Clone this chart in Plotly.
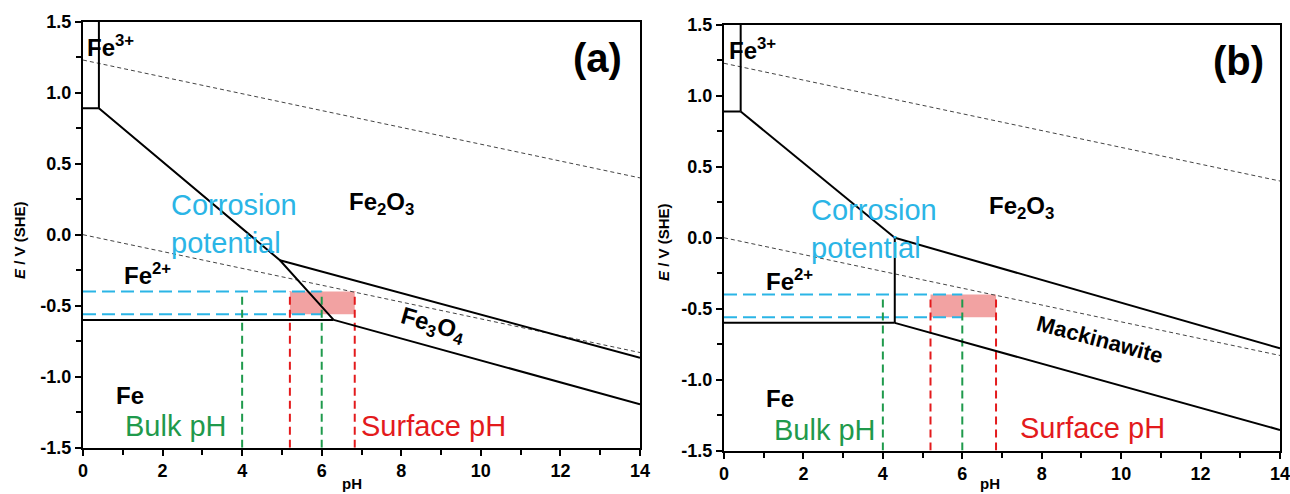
import plotly.graph_objects as go

# ---------------- data ----------------
x_ticks = [0, 2, 4, 6, 8, 10, 12, 14]
x_tick_labels = ["0", "2", "4", "6", "8", "10", "12", "14"]
x_minor_ticks = [1, 3, 5, 7, 9, 11, 13]
y_ticks = [-1.5, -1.0, -0.5, 0.0, 0.5, 1.0, 1.5]
y_tick_labels = ["-1.5", "-1.0", "-0.5", "0.0", "0.5", "1.0", "1.5"]
y_minor_ticks = [-1.25, -0.75, -0.25, 0.25, 0.75, 1.25]

# water stability lines (both panels)
water_up_x = [0, 14]
water_up_y = [1.23, 0.40]
water_low_x = [0, 14]
water_low_y = [0.0, -0.83]

# panel (a) boundaries
a_fe3_v_x = [0.4, 0.4]
a_fe3_v_y = [1.5, 0.89]
a_fe3_h_x = [0, 0.4]
a_fe3_h_y = [0.89, 0.89]
a_diag_x = [0.4, 4.95, 6.3]
a_diag_y = [0.89, -0.18, -0.60]
a_fe_h_x = [0, 6.3]
a_fe_h_y = [-0.60, -0.60]
a_ox_up_x = [4.95, 14]
a_ox_up_y = [-0.18, -0.866]
a_ox_low_x = [6.3, 14]
a_ox_low_y = [-0.60, -1.194]

# panel (b) boundaries
b_fe3_v_x = [0.42, 0.42]
b_fe3_v_y = [1.5, 0.89]
b_fe3_h_x = [0, 0.42]
b_fe3_h_y = [0.89, 0.89]
b_diag_x = [0.42, 4.3]
b_diag_y = [0.89, 0.0]
b_vert_x = [4.3, 4.3]
b_vert_y = [0.0, -0.60]
b_fe_h_x = [0, 4.3]
b_fe_h_y = [-0.60, -0.60]
b_mk_up_x = [4.3, 14]
b_mk_up_y = [0.0, -0.78]
b_mk_low_x = [4.3, 14]
b_mk_low_y = [-0.60, -1.355]

# corrosion potential window and pH markers
corr_E = [-0.40, -0.56]
corr_x = [0, 6.0]
bulk_pH = [4.0, 6.0]
surface_pH_a = [5.2, 6.83]
surface_pH_b = [5.2, 6.85]
marker_bottom = -1.5
marker_top = -0.40

CYAN = "#2bb5e6"
GREEN = "#1f9a4c"
RED = "#e31a1c"
PINK = "#f2a2a2"
FONT = "Liberation Sans"

fig = go.Figure()


def line(xs, ys, xa, ya, color="black", width=2, dash="solid"):
    fig.add_trace(go.Scatter(x=xs, y=ys, xaxis=xa, yaxis=ya, mode="lines",
                             line=dict(color=color, width=width, dash=dash),
                             hoverinfo="skip", showlegend=False))


def panel(xa, ya, bounds, surf):
    fig.add_trace(go.Scatter(
        x=[surf[0], surf[1], surf[1], surf[0], surf[0]],
        y=[corr_E[0], corr_E[0], corr_E[1], corr_E[1], corr_E[0]],
        xaxis=xa, yaxis=ya, mode="lines", fill="toself", fillcolor=PINK,
        line=dict(width=0, color=PINK), hoverinfo="skip", showlegend=False))
    line(water_up_x, water_up_y, xa, ya, "#444444", 1, "4px,3px")
    line(water_low_x, water_low_y, xa, ya, "#444444", 1, "4px,3px")
    for e in corr_E:
        line(corr_x, [e, e], xa, ya, CYAN, 2, "13px,6px")
    for p in bulk_pH:
        line([p, p], [marker_bottom, marker_top], xa, ya, GREEN, 2, "8px,5px")
    for p in surf:
        line([p, p], [marker_bottom, marker_top], xa, ya, RED, 2, "8px,5px")
    for xs, ys in bounds:
        line(xs, ys, xa, ya, "black", 2)


panel("x", "y", [(a_fe3_v_x, a_fe3_v_y), (a_fe3_h_x, a_fe3_h_y), (a_diag_x, a_diag_y),
                 (a_fe_h_x, a_fe_h_y), (a_ox_up_x, a_ox_up_y), (a_ox_low_x, a_ox_low_y)],
      surface_pH_a)
panel("x2", "y2", [(b_fe3_v_x, b_fe3_v_y), (b_fe3_h_x, b_fe3_h_y), (b_diag_x, b_diag_y),
                   (b_vert_x, b_vert_y), (b_fe_h_x, b_fe_h_y), (b_mk_up_x, b_mk_up_y),
                   (b_mk_low_x, b_mk_low_y)],
      surface_pH_b)


def xaxis(domain, anchor):
    return dict(domain=domain, anchor=anchor, range=[0, 14], tickvals=x_ticks,
                ticktext=x_tick_labels, ticks="outside", ticklen=6, tickwidth=1.5,
                tickcolor="black", showline=True, linewidth=2, linecolor="black",
                mirror=True, showgrid=False, zeroline=False, automargin=False,
                ticklabeloverflow="allow",
                tickfont=dict(family=FONT, size=18, color="black", weight="bold"),
                minor=dict(tickvals=x_minor_ticks, ticks="outside", ticklen=5,
                           tickwidth=1.5, tickcolor="black", showgrid=False))


def yaxis(domain, anchor):
    return dict(domain=domain, anchor=anchor, range=[-1.5, 1.5], tickvals=y_ticks,
                ticktext=y_tick_labels, ticks="outside", ticklen=6, tickwidth=1.5,
                tickcolor="black", showline=True, linewidth=2, linecolor="black",
                mirror=True, showgrid=False, zeroline=False, automargin=False,
                ticklabeloverflow="allow",
                tickfont=dict(family=FONT, size=18, color="black", weight="bold"),
                minor=dict(tickvals=y_minor_ticks, ticks="outside",
                           ticklen=5, tickwidth=1.5, tickcolor="black", showgrid=False))


def inside_x(over, anchor):
    # second set of ticks pointing inward, so the ticks cross the axis line
    return dict(overlaying=over, anchor=anchor, side="bottom", range=[0, 14],
                tickvals=x_ticks + x_minor_ticks, ticks="inside", ticklen=5, tickwidth=1.5,
                tickcolor="black", showticklabels=False, showline=False, showgrid=False,
                zeroline=False, automargin=False)


def inside_y(over, anchor):
    return dict(overlaying=over, anchor=anchor, side="left", range=[-1.5, 1.5],
                tickvals=y_ticks + y_minor_ticks, ticks="inside", ticklen=5, tickwidth=1.5,
                tickcolor="black", showticklabels=False, showline=False, showgrid=False,
                zeroline=False, automargin=False)


W, H = 1290, 494
fig.update_layout(
    width=W, height=H, autosize=False,
    margin=dict(l=0, r=0, t=0, b=0, pad=0),
    paper_bgcolor="white", plot_bgcolor="white",
    xaxis=xaxis([83 / W, 640 / W], "y"),
    yaxis=yaxis([1 - 447.7 / H, 1 - 21.7 / H], "x"),
    xaxis2=xaxis([724 / W, 1280 / W], "y2"),
    yaxis2=yaxis([1 - 450.5 / H, 1 - 25 / H], "x2"),
    xaxis3=inside_x("x", "y"),
    yaxis3=inside_y("y", "x"),
    xaxis4=inside_x("x2", "y2"),
    yaxis4=inside_y("y2", "x2"),
)

ann = []


def label(text, x, y, xa, ya, size=24, color="black", bold=True, xanchor="center",
          angle=0, align="left"):
    ann.append(dict(text=text, x=x, y=y, xref=xa, yref=ya, showarrow=False,
                    xanchor=xanchor, yanchor="middle", textangle=angle, align=align,
                    font=dict(family=FONT, size=size, color=color,
                              weight="bold" if bold else "normal")))


# panel (a)
label("Fe<sup>3+</sup>", 0.05, 1.33, "x", "y", xanchor="left")
label("Fe<sub>2</sub>O<sub>3</sub>", 7.49, 0.22, "x", "y")
label("Corrosion<br>potential", 2.15, 0.075, "x", "y", size=29, color=CYAN, bold=False,
      xanchor="left")
label("Fe<sup>2+</sup>", 0.98, -0.28, "x", "y", xanchor="left")
label("Fe<sub>3</sub>O<sub>4</sub>", 8.8, -0.64, "x", "y", angle=16)
label("Fe", 0.78, -1.13, "x", "y", xanchor="left")
label("Bulk pH", 1.0, -1.35, "x", "y", size=29, color=GREEN, bold=False, xanchor="left")
label("Surface pH", 6.93, -1.35, "x", "y", size=29, color=RED, bold=False, xanchor="left")
label("(a)", 12.94, 1.245, "x", "y", size=40)

# panel (b)
label("Fe<sup>3+</sup>", 0.08, 1.33, "x2", "y2", xanchor="left")
label("Fe<sub>2</sub>O<sub>3</sub>", 7.5, 0.21, "x2", "y2")
label("Corrosion<br>potential", 2.13, 0.06, "x2", "y2", size=29, color=CYAN, bold=False,
      xanchor="left")
label("Fe<sup>2+</sup>", 1.0, -0.30, "x2", "y2", xanchor="left")
label("Mackinawite", 9.46, -0.72, "x2", "y2", size=22, angle=15)
label("Fe", 1.0, -1.13, "x2", "y2", xanchor="left")
label("Bulk pH", 1.22, -1.355, "x2", "y2", size=29, color=GREEN, bold=False, xanchor="left")
label("Surface pH", 7.4, -1.34, "x2", "y2", size=29, color=RED, bold=False, xanchor="left")
label("(b)", 12.96, 1.246, "x2", "y2", size=40)

# axis titles
for px in (352, 990):
    label("pH", px / W, 1 - 483 / H, "paper", "paper", size=15)
for px, py in ((20, 240), (663, 242)):
    label("<i>E</i> / V (SHE)", px / W, 1 - py / H, "paper", "paper", size=15, angle=-90)

fig.update_layout(annotations=ann)
fig.write_html("out.html", config={"displayModeBar": False},
               post_script="document.body.style.margin='0';document.body.style.overflow='hidden';")
